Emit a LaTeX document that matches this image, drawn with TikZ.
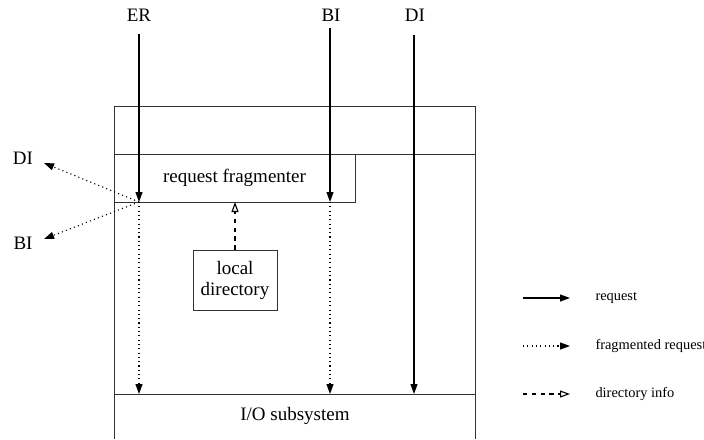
\documentclass[tikz,border=0pt]{standalone}
\usepackage{fontspec}
\setmainfont{Liberation Serif}
\usepackage{tikz}
\usetikzlibrary{arrows.meta, positioning}

\tikzset{
  req/.style={draw=black, line width=0.55pt, -{Triangle[length=5pt,width=3.5pt]}},
  frag/.style={draw=black, line width=0.55pt, dash pattern=on 0.55pt off 1.6pt, -{Triangle[length=5pt,width=3.5pt]}},
  dirinfo/.style={draw=black, line width=0.55pt, dash pattern=on 2.2pt off 2.2pt, -{Triangle[open,length=5pt,width=3.5pt]}},
  lbl/.style={font=\fontsize{9.5}{10.5}\selectfont, inner sep=0pt},
  key/.style={font=\fontsize{7.2}{8}\selectfont, inner sep=0pt, anchor=west}
}

\begin{document}
\begin{tikzpicture}[x=0.5pt, y=-0.5pt, line width=0.5pt]
      \useasboundingbox (0,0) rectangle (704,439);
      % outer frame
      \draw[black!80] (114,439) -- (114,106) -- (475,106) -- (475,439);
      \draw[black!80] (114,154) -- (475,154);
      \draw[black!80] (114,394) -- (475,394);
      \node[lbl] (io) at (295,416) {I/O subsystem};
      \begin{scope}[every node/.style={draw=black!80, inner sep=0pt, lbl}]
      \node[minimum width=120.5pt, minimum height=24pt] (frag) at (234.5,178) {request fragmenter};
      \node[minimum width=42pt, minimum height=30pt, align=center] (dir) at (235,280) {local\\directory};
      \end{scope}
      % incoming requests
      \node[lbl] (er) at (139,15) {ER};
      \node[lbl] (bi) at (331,15) {BI};
      \node[lbl] (di) at (415,15) {DI};
      \node[lbl] (diout) at (23,158) {DI};
      \node[lbl] (biout) at (23,243) {BI};
      \coordinate (ertop) at (139,34);
      \coordinate (bitop) at (330,28);
      \coordinate (ditop) at (414,35);
      \coordinate (erin) at (139,202);
      \coordinate (biin) at (330,202);
      \coordinate (erio) at (139,394);
      \coordinate (biio) at (330,394);
      \coordinate (diio) at (414,394);
      \coordinate (ditip) at (44,163);
      \coordinate (bitip) at (44,239);
      \coordinate (dirtip) at (235,202);
      \begin{scope}
      \path[req] (ertop) -- (erin);
      \path[req] (bitop) -- (biin);
      \path[req] (ditop) -- (diio);
      \path[frag] (erin) -- (erio);
      \path[frag] (biin) -- (biio);
      \path[frag] (erin) -- (ditip);
      \path[frag] (erin) -- (bitip);
      \path[dirinfo] (dir.north) -- (dirtip);
      \end{scope}
      % legend
      \coordinate (k1a) at (523,298); \coordinate (k1b) at (570,298);
      \coordinate (k2a) at (523,346); \coordinate (k2b) at (570,346);
      \coordinate (k3a) at (523,394); \coordinate (k3b) at (570,394);
      \path[req] (k1a) -- (k1b);
      \path[frag] (k2a) -- (k2b);
      \path[dirinfo] (k3a) -- (k3b);
      \node[key] (k1) at (595,298) {request};
      \node[key] (k2) at (595,346) {fragmented request};
      \node[key] (k3) at (595,394) {directory info};
\end{tikzpicture}
\end{document}
